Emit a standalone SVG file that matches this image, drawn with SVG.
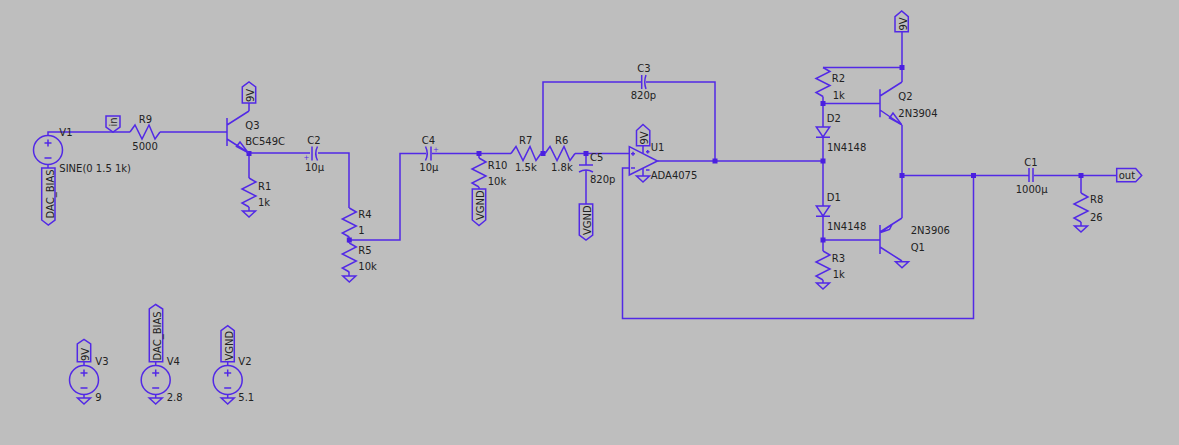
<svg xmlns="http://www.w3.org/2000/svg" xmlns:xlink="http://www.w3.org/1999/xlink" width="1179" height="445" viewBox="0 0 1179 445">
<style>
.w{fill:none;stroke:#5229e6;stroke-width:1.5;stroke-linejoin:miter}
.d{fill:#4a1fe0;stroke:none}
text{font-family:"DejaVu Sans",Verdana,sans-serif;font-size:10px;fill:#222}
.s{font-size:7px;fill:#5229e6}
</style>
<defs>
<path id="rv" class="w" d="M0 0L7 4L-7 11L7 18L-7 25L0 29"/>
<path id="rh" class="w" d="M0 0L5 -7L12 7L19 -7L25 7L30 0"/>
<path id="gnd" class="w" d="M-6.500 0H6.500L0 6Z"/>
<rect id="dot" class="d" x="-2.500" y="-2.500" width="5" height="5"/>
<g id="src"><circle class="w" r="14.500"/><path class="w" d="M-3.500 -7H3.500M0 -10.500V-3.500M-3.500 8H3.500"/></g>
<path id="capv" class="w" d="M-2 -7V7M3.500 -7Q0 0 3.500 7"/>
<path id="diode" class="w" d="M-6.700 0H6.700L0 10Z M-7 10.300H7"/>
</defs>
<rect width="1179" height="445" fill="#bebebe"/>

<g id="connectors">
<path class="w" d="M48 135V132H130M160 132H227"/>
<path class="w" d="M48 165V168"/>
<path class="w" d="M249 103V111M249 153H310M318 153H349V208M349 237V243"/>
<path class="w" d="M249 153V178M249 207V211"/>
<path class="w" d="M349 240H400V153.500H426M432 153.500H511"/>
<path class="w" d="M349 272V276"/>
<path class="w" d="M479 153.500V158M479 187V189"/>
<path class="w" d="M541 153.500H545M575 153.500H629"/>
<path class="w" d="M543 153.500V82H641M646 82H715V161"/>
<path class="w" d="M586 153.500V165M586 170V204"/>
<path class="w" d="M657.500 161H823"/>
<path class="w" d="M629 168H622.500V318.500H973.500V175.500"/>
<path class="w" d="M643 146V153M643 168V176"/>
<path class="w" d="M902 32V82M823 67.500H902M823 96.500V127M823 137V206M823 216V251M823 103.500H880M823 240H880"/>
<path class="w" d="M902 125V218M902 175.500H1029M1034 175.500H1117M1081 175.500V193M1081 222V226"/>
<path class="w" d="M823 280V283"/>
<path class="w" d="M902 261V262"/>
<path class="w" d="M84 362V365M84 395V398M155.700 362V365M155.700 395V398M227.700 362V365M227.700 395V398"/>
<use href="#dot" x="249" y="153.500"/><use href="#dot" x="349.300" y="240"/><use href="#dot" x="479" y="153.500"/><use href="#dot" x="543" y="153.500"/><use href="#dot" x="586" y="153.500"/><use href="#dot" x="715" y="161"/><use href="#dot" x="823" y="161"/><use href="#dot" x="902" y="67.500"/><use href="#dot" x="823" y="103.500"/><use href="#dot" x="823" y="240"/><use href="#dot" x="902" y="175.500"/><use href="#dot" x="973.500" y="175.500"/><use href="#dot" x="1081" y="175.500"/>
</g>

<g id="V1"><use href="#src" x="48" y="150"/><text x="59.300" y="135.700">V1</text><text x="59.300" y="171.700">SINE(0 1.5 1k)</text></g>
<g id="flag-dac1"><path class="w" d="M41.700 168H55V220L48.300 225L41.700 220Z"/><text transform="translate(53.500 218.500) rotate(-90)">DAC_BIAS</text></g>
<g id="flag-in"><path class="w" d="M106 116H120V127L113 132L106 127Z"/><text transform="translate(117 126.500) rotate(-90)">in</text></g>
<g id="R9"><use href="#rh" x="130" y="132"/><text x="138.700" y="123">R9</text><text x="132.300" y="150">5000</text></g>
<g id="Q3"><path class="w" d="M227 118V146M227 125L249 111M227 139L249 153"/><path class="w" d="M236.500 146.500L240 142L248 152.500Z"/><text x="245.300" y="129.300">Q3</text><text x="245.300" y="145.300">BC549C</text></g>
<g id="flag-9v-q3"><path class="w" d="M242.300 103V87L249 82L255.700 87V103Z"/><text transform="translate(254 102) rotate(-90)">9V</text></g>
<g id="C2"><use href="#capv" transform="translate(314 153.500)"/><text x="307.300" y="144">C2</text><text class="s" x="303.500" y="159.500">+</text><text x="305" y="170.700">10μ</text></g>
<g id="R1"><use href="#rv" x="249" y="178"/><use href="#gnd" x="249" y="211"/><text x="258" y="190">R1</text><text x="258" y="206">1k</text></g>
<g id="R4"><use href="#rv" x="349.300" y="208"/><text x="358.300" y="218">R4</text><text x="358.300" y="234">1</text></g>
<g id="R5"><use href="#rv" x="349.300" y="243"/><use href="#gnd" x="349.300" y="276"/><text x="358.300" y="254">R5</text><text x="358.300" y="270">10k</text></g>
<g id="C4"><use href="#capv" transform="translate(429 153.500) rotate(180)"/><text x="421.700" y="144">C4</text><text class="s" x="433" y="152">+</text><text x="419.300" y="170.700">10μ</text></g>
<g id="R10"><use href="#rv" x="479" y="158"/><text x="487.700" y="169">R10</text><text x="487.700" y="185">10k</text></g>
<g id="flag-vgnd-r10"><path class="w" d="M472.300 189H485.700V220L479 225.500L472.300 220Z"/><text transform="translate(484 220) rotate(-90)">VGND</text></g>
<g id="R7"><use href="#rh" x="511" y="153.500"/><text x="519" y="144">R7</text><text x="515" y="170.700">1.5k</text></g>
<g id="R6"><use href="#rh" x="545" y="153.500"/><text x="555" y="144">R6</text><text x="551" y="170.700">1.8k</text></g>
<g id="C5"><path class="w" d="M579 165H593M579 172Q586 168 593 172"/><text x="590" y="161">C5</text><text x="590" y="183">820p</text></g>
<g id="flag-vgnd-c5"><path class="w" d="M579.300 204H592.700V235L586 240L579.300 235Z"/><text transform="translate(591 235) rotate(-90)">VGND</text></g>
<g id="C3"><path class="w" d="M641.700 75V89M646 75Q643.500 82 646 89"/><text x="637.300" y="72">C3</text><text x="630.700" y="99.300">820p</text></g>
<g id="U1"><path class="w" d="M629.300 146.700L657.500 161L629.300 175Z"/><path class="w" d="M631 153.700H635M633 151.700V155.700M631 168H635M646 151.700H649.500M647.700 150V153.500M646 170H649.500"/><use href="#gnd" x="643" y="176"/><text x="650.700" y="150.700">U1</text><text x="650.700" y="178.700">ADA4075</text></g>
<g id="flag-9v-u1"><path class="w" d="M636.500 145.700V130.500L643 124.500L649.800 130.500V145.700Z"/><text transform="translate(648 144.500) rotate(-90)">9V</text></g>
<g id="flag-9v-q2"><path class="w" d="M895 31.700V16.700L901.700 11L908.300 16.700V31.700Z"/><text transform="translate(906.500 30.500) rotate(-90)">9V</text></g>
<g id="R2"><use href="#rv" x="823" y="67.500"/><text x="831.700" y="81.700">R2</text><text x="832.700" y="99">1k</text></g>
<g id="Q2"><path class="w" d="M880 89.300V117.300M880 96L902 82M880 110L902 125"/><path class="w" d="M889.500 118L893 113L901.500 124.500Z"/><text x="898.300" y="100">Q2</text><text x="898.300" y="116.700">2N3904</text></g>
<g id="D2"><use href="#diode" x="823" y="127"/><text x="826.700" y="121.700">D2</text><text x="827" y="150.700">1N4148</text></g>
<g id="D1"><use href="#diode" x="823" y="206"/><text x="826.700" y="200.700">D1</text><text x="827" y="230">1N4148</text></g>
<g id="Q1"><path class="w" d="M880 225V254M880 232L902 218M880 247L902 261"/><path class="w" d="M880.500 232.500L892 224.500L889.500 229.500Z"/><use href="#gnd" x="902" y="261.700"/><text x="910.700" y="234.300">2N3906</text><text x="910.700" y="250.700">Q1</text></g>
<g id="R3"><use href="#rv" x="823" y="251"/><use href="#gnd" x="823" y="283"/><text x="831.700" y="261.700">R3</text><text x="832.700" y="277.700">1k</text></g>
<g id="C1"><path class="w" d="M1029 168V182M1033 168V182"/><text x="1024.300" y="165.700">C1</text><text x="1015.700" y="192.700">1000μ</text></g>
<g id="R8"><use href="#rv" x="1081" y="193"/><use href="#gnd" x="1081" y="226"/><text x="1090" y="203.300">R8</text><text x="1090" y="220.700">26</text></g>
<g id="flag-out"><path class="w" d="M1116.700 168.500H1135.700L1141.700 175.500L1135.700 181.700H1116.700Z"/><text x="1118.700" y="178.800">out</text></g>
<g id="V3"><use href="#src" x="84" y="380"/><use href="#gnd" x="84" y="398"/><text x="95.300" y="365">V3</text><text x="95.300" y="401">9</text></g>
<g id="flag-9v-v3"><path class="w" d="M77.300 361.700V344L84 339.500L90.700 344V361.700Z"/><text transform="translate(89.300 361) rotate(-90)">9V</text></g>
<g id="V4"><use href="#src" x="155.700" y="380"/><use href="#gnd" x="155.700" y="398"/><text x="166.700" y="365">V4</text><text x="166.700" y="401">2.8</text></g>
<g id="flag-dac2"><path class="w" d="M149.300 361.700V309L155.700 304.500L162.700 309V361.700Z"/><text transform="translate(161 360.500) rotate(-90)">DAC_BIAS</text></g>
<g id="V2"><use href="#src" x="227.700" y="380"/><use href="#gnd" x="227.700" y="398"/><text x="238.300" y="365">V2</text><text x="238.300" y="401">5.1</text></g>
<g id="flag-vgnd-v2"><path class="w" d="M221 361.700V330.700L227.700 325.700L234.300 330.700V361.700Z"/><text transform="translate(232.700 360.500) rotate(-90)">VGND</text></g>
</svg>
